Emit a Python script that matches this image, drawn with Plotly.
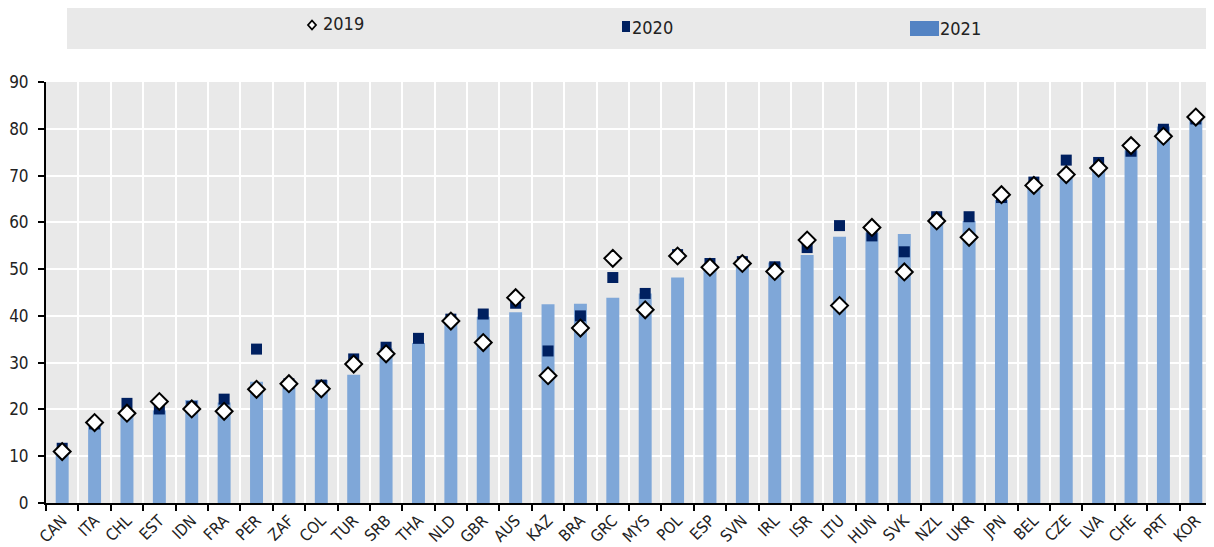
import plotly.graph_objects as go

countries = ["CAN","ITA","CHL","EST","IDN","FRA","PER","ZAF","COL","TUR","SRB","THA","NLD","GBR","AUS","KAZ","BRA","GRC","MYS","POL","ESP","SVN","IRL","ISR","LTU","HUN","SVK","NZL","UKR","JPN","BEL","CZE","LVA","CHE","PRT","KOR"]
v2021 = [11.2,16.7,19.9,19.8,22.0,21.5,25.9,25.6,26.3,27.4,33.1,34.2,39.8,39.8,40.8,42.5,42.6,43.9,44.8,48.2,50.5,50.9,51.4,53.0,56.9,57.8,57.5,60.0,60.3,64.8,68.3,70.1,72.2,75.4,80.5,81.9]
v2020 = [11.7,16.9,21.3,20.1,20.6,22.2,32.9,25.5,25.2,30.8,33.3,35.2,39.3,40.4,42.7,32.5,40.0,48.2,44.8,53.1,51.2,51.6,50.5,54.6,59.3,57.1,53.7,61.2,61.2,65.3,68.6,73.3,72.8,75.2,79.9,82.1]
v2019 = [11.0,17.2,19.2,21.7,20.1,19.6,24.3,25.5,24.4,29.7,31.9,None,38.9,34.3,43.9,27.2,37.4,52.3,41.3,52.8,50.4,51.2,49.5,56.2,42.2,58.9,49.4,60.3,56.8,65.9,67.9,70.2,71.6,76.4,78.4,82.5]
yticks = [0,10,20,30,40,50,60,70,80,90]

FONT = "DejaVu Sans Condensed, Liberation Sans Narrow, Arial Narrow, sans-serif"
BAR = "#7FA7D8"
NAVY = "#002060"

fig = go.Figure()
fig.add_trace(go.Bar(x=countries, y=v2021, name="2021", marker=dict(color=BAR, line=dict(width=0)), showlegend=False))
fig.add_trace(go.Scatter(x=countries, y=v2020, name="2020", mode="markers",
                         marker=dict(symbol="square", size=11, color=NAVY, line=dict(width=0)), showlegend=False))
fig.add_trace(go.Scatter(x=countries, y=v2019, name="2019", mode="markers",
                         marker=dict(symbol="diamond", size=13, color="white", line=dict(width=2, color="black")), showlegend=False))

# page body adds an 8px offset; figure coordinates are reference pixels minus 8
W, H = 1206, 539
L, R, T, B = 38, 2, 74, 44
pw, ph = W - L - R, H - T - B
def px(x): return (x - L) / pw
def py(y): return (H - B - y) / ph

shapes = [
    dict(type="rect", xref="paper", yref="paper", x0=px(59), x1=px(1206), y0=py(41), y1=py(0),
         fillcolor="#E9E9E9", line=dict(width=0), layer="below"),
    dict(type="path", xref="paper", yref="paper",
         path=f"M {px(304)} {py(12.5)} L {px(308)} {py(17)} L {px(304)} {py(21.5)} L {px(300)} {py(17)} Z",
         fillcolor="white", line=dict(color="black", width=1.8)),
    dict(type="rect", xref="paper", yref="paper", x0=px(614), x1=px(622), y0=py(24), y1=py(13),
         fillcolor=NAVY, line=dict(width=0)),
    dict(type="rect", xref="paper", yref="paper", x0=px(902), x1=px(931), y0=py(28), y1=py(13),
         fillcolor="#5383C3", line=dict(width=0)),
]
annotations = [
    dict(xref="paper", yref="paper", x=px(313), y=py(16), text="2019", showarrow=False, xanchor="left", yanchor="middle",
         font=dict(family=FONT, size=18, color="#222")),
    dict(xref="paper", yref="paper", x=px(622), y=py(19), text="2020", showarrow=False, xanchor="left", yanchor="middle",
         font=dict(family=FONT, size=18, color="#222")),
    dict(xref="paper", yref="paper", x=px(930), y=py(20), text="2021", showarrow=False, xanchor="left", yanchor="middle",
         font=dict(family=FONT, size=18, color="#222")),
]

fig.update_layout(
    width=W, height=H,
    margin=dict(l=L, r=R, t=T, b=B, pad=0, autoexpand=False),
    paper_bgcolor="white", plot_bgcolor="#E9E9E9",
    bargap=0.6,
    shapes=shapes, annotations=annotations,
    font=dict(family=FONT, color="#222"),
    showlegend=False,
)
fig.update_xaxes(type="category", tickson="boundaries", showgrid=True, gridcolor="white", gridwidth=2,
                 ticks="outside", ticklen=6, tickwidth=1.5, tickcolor="black",
                 showline=True, linecolor="black", linewidth=2, automargin=False,
                 tickangle=-45, tickfont=dict(family=FONT, size=16, color="#222"),
                 range=[-0.5, len(countries) - 0.5])
fig.update_yaxes(range=[0, 90], tickvals=yticks, showgrid=True, gridcolor="white", gridwidth=2,
                 ticks="outside", ticklen=6, tickwidth=1.5, tickcolor="black", automargin=False,
                 showline=True, linecolor="black", linewidth=2, zeroline=False, ticklabelstandoff=6,
                 tickfont=dict(family=FONT, size=17, color="#222"))

fig.write_html("out.html")
